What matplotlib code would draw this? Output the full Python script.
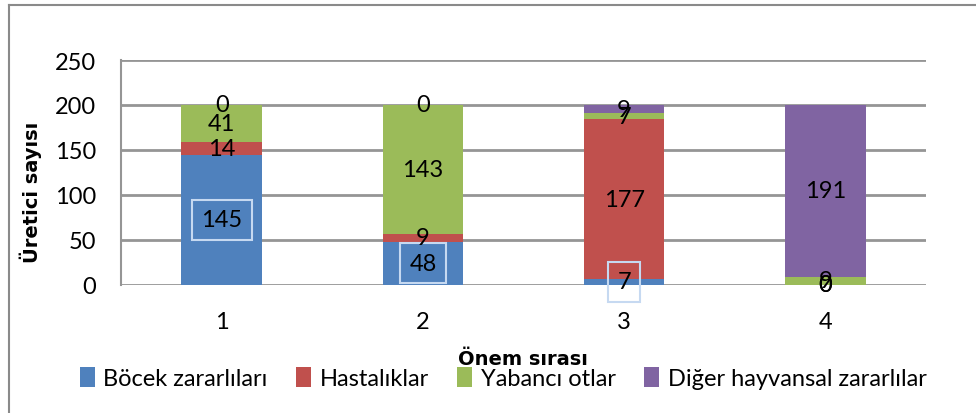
import matplotlib
matplotlib.use("Agg")
import matplotlib.pyplot as plt
from matplotlib.lines import Line2D
import numpy as np

plt.rcParams['font.family'] = ['Lato', 'DejaVu Sans']

categories = ['1', '2', '3', '4']
series_names = ['Böcek zararlıları', 'Hastalıklar', 'Yabancı otlar', 'Diğer hayvansal zararlılar']
bocek = [145, 48, 7, 0]
hastalik = [14, 9, 177, 0]
yabanci = [41, 143, 7, 9]
diger = [0, 0, 9, 191]
colors = ['#4f81bd', '#c0504d', '#9bbb59', '#8064a2']
yticks = [0, 50, 100, 150, 200, 250]
xlabel = 'Önem sırası'
ylabel = 'Üretici sayısı'

fig = plt.figure(figsize=(9.76, 4.14), dpi=100)
ax = fig.add_axes([121/976, 1-286/414, 805/976, 225/414])

x = np.arange(1, len(categories)+1)
series = [bocek, hastalik, yabanci, diger]
bottom = np.zeros(len(categories))
fs = 17
boxed = {(0, 0), (0, 1), (0, 2)}  # (series, category) with label boxes
for si, (vals, col, name) in enumerate(zip(series, colors, series_names)):
    vals = np.array(vals, dtype=float)
    ax.bar(x, vals, width=0.4, bottom=bottom, color=col, label=name, zorder=3)
    for ci in range(len(categories)):
        yc = bottom[ci] + vals[ci] / 2
        kw = {}
        if (si, ci) in boxed:
            kw['bbox'] = dict(boxstyle='square,pad=0.4', facecolor='none',
                              edgecolor='#c6d9f1', linewidth=1.5)
        ax.text(x[ci], yc, f'{int(vals[ci])}', ha='center', va='center',
                fontsize=fs, color='black', zorder=5, **kw)
    bottom += vals

ax.set_xlim(0.5, 4.5)
ax.set_ylim(0, 250)
ax.set_yticks(yticks)
ax.set_xticks(x)
ax.set_xticklabels(categories)
ax.yaxis.grid(True, color='#959595', linewidth=2, zorder=0)
ax.set_axisbelow(True)
for s in ['top', 'right', 'bottom']:
    ax.spines[s].set_visible(False)
ax.spines['left'].set_color('#959595')
ax.spines['left'].set_linewidth(1.5)
ax.tick_params(axis='both', length=0, labelsize=fs)
ax.tick_params(axis='x', pad=19)
ax.tick_params(axis='y', pad=18)

fig.text(523/976, 1-360/414, xlabel, ha='center', va='center',
         fontsize=14, fontweight='bold', family=['DejaVu Sans'])
fig.text(31/976, 1-192/414, ylabel, ha='center', va='center', rotation=90,
         fontsize=14, fontweight='bold', family=['DejaVu Sans'])

handles, labels = ax.get_legend_handles_labels()
leg = fig.legend(handles, labels, loc='center', bbox_to_anchor=(503/976, 1-379/414),
                 ncol=4, frameon=False, fontsize=fs, handlelength=0.65, handleheight=0.9,
                 handletextpad=0.35, columnspacing=1.2, borderaxespad=0)

# outer border
fig.add_artist(Line2D([9/976, 9/976], [0, 1-6/414], transform=fig.transFigure,
                      color='#8a8a8a', linewidth=1.5))
fig.add_artist(Line2D([9/976, 1], [1-6/414, 1-6/414], transform=fig.transFigure,
                      color='#8a8a8a', linewidth=1.5))

fig.savefig('out.png', dpi=100)
